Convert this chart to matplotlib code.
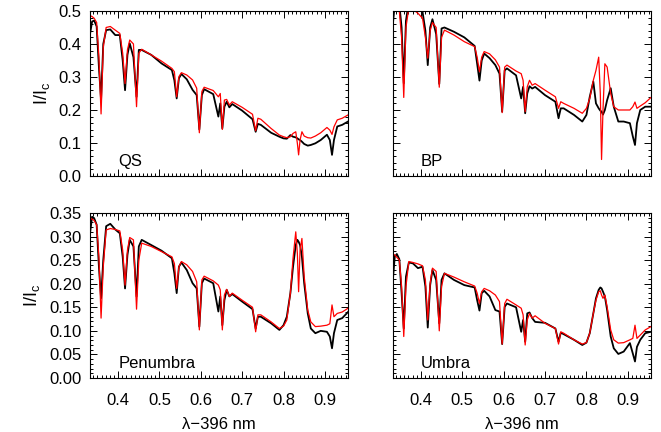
import matplotlib
matplotlib.use("Agg")
import matplotlib.pyplot as plt
from matplotlib.ticker import MultipleLocator, FormatStrFormatter

# wavelength grid (lambda - 396 nm), shared by all spectra
wl = [0.332, 0.337, 0.342, 0.348, 0.3535, 0.3587, 0.364, 0.371, 0.381, 0.393,
      0.404, 0.411, 0.4167, 0.4225, 0.428, 0.437, 0.4445, 0.450, 0.457, 0.480,
      0.505, 0.530, 0.536, 0.5416, 0.547, 0.553, 0.566, 0.580, 0.590, 0.5964,
      0.6025, 0.608, 0.630, 0.6424, 0.647, 0.652, 0.657, 0.6625, 0.669, 0.676,
      0.700, 0.725, 0.7326, 0.738, 0.745, 0.770, 0.790, 0.800, 0.808, 0.8166,
      0.823, 0.8296, 0.8335, 0.8365, 0.840, 0.8445, 0.850, 0.8586, 0.866, 0.877,
      0.890, 0.905, 0.912, 0.9173, 0.922, 0.930, 0.942, 0.956]

# observed (black) and synthetic (red) profiles, I/Ic
qs_obs = [0.43, 0.468, 0.471, 0.453, 0.33, 0.23, 0.40, 0.442, 0.444, 0.427,
          0.427, 0.35, 0.26, 0.367, 0.402, 0.36, 0.24, 0.382, 0.382, 0.367,
          0.341, 0.321, 0.29, 0.235, 0.296, 0.309, 0.293, 0.261, 0.245, 0.141,
          0.245, 0.263, 0.248, 0.18, 0.22, 0.144, 0.21, 0.225, 0.208, 0.218,
          0.198, 0.172, 0.134, 0.158, 0.155, 0.131, 0.119, 0.114, 0.113, 0.124,
          0.119, 0.117, 0.114, 0.111, 0.109, 0.104, 0.097, 0.092, 0.094, 0.099,
          0.109, 0.125, 0.109, 0.064, 0.109, 0.15, 0.155, 0.165]
qs_syn = [0.486, 0.483, 0.478, 0.465, 0.36, 0.188, 0.39, 0.45, 0.453, 0.442,
          0.432, 0.372, 0.28, 0.382, 0.412, 0.40, 0.21, 0.372, 0.384, 0.367,
          0.348, 0.326, 0.316, 0.24, 0.301, 0.313, 0.306, 0.291, 0.266, 0.131,
          0.256, 0.269, 0.259, 0.24, 0.25, 0.141, 0.23, 0.232, 0.215, 0.225,
          0.208, 0.187, 0.137, 0.175, 0.172, 0.144, 0.124, 0.119, 0.116, 0.119,
          0.129, 0.134, 0.099, 0.064, 0.109, 0.134, 0.121, 0.116, 0.115, 0.121,
          0.131, 0.147, 0.139, 0.126, 0.149, 0.17, 0.175, 0.185]

bp_obs = [0.455, 0.52, 0.53, 0.52, 0.45, 0.281, 0.47, 0.53, 0.53, 0.52,
          0.498, 0.44, 0.336, 0.45, 0.475, 0.43, 0.279, 0.447, 0.45, 0.437,
          0.42, 0.394, 0.34, 0.289, 0.35, 0.371, 0.357, 0.336, 0.31, 0.195,
          0.32, 0.326, 0.305, 0.235, 0.27, 0.19, 0.25, 0.272, 0.265, 0.27,
          0.245, 0.225, 0.175, 0.205, 0.205, 0.185, 0.165, 0.185, 0.24, 0.286,
          0.22, 0.205, 0.198, 0.195, 0.186, 0.2, 0.23, 0.266, 0.21, 0.165,
          0.165, 0.16, 0.12, 0.094, 0.16, 0.2, 0.21, 0.21]
bp_syn = [0.51, 0.51, 0.51, 0.5, 0.42, 0.238, 0.45, 0.51, 0.505, 0.493,
          0.478, 0.42, 0.357, 0.44, 0.465, 0.45, 0.269, 0.42, 0.442, 0.427,
          0.407, 0.392, 0.36, 0.316, 0.36, 0.377, 0.37, 0.352, 0.33, 0.192,
          0.33, 0.336, 0.318, 0.31, 0.29, 0.195, 0.27, 0.29, 0.275, 0.28,
          0.26, 0.24, 0.205, 0.225, 0.22, 0.205, 0.19, 0.205, 0.235, 0.29,
          0.32, 0.36, 0.25, 0.05, 0.2, 0.34, 0.33, 0.25, 0.21, 0.2,
          0.2, 0.2, 0.21, 0.224, 0.205, 0.212, 0.222, 0.238]

pen_obs = [0.307, 0.342, 0.339, 0.325, 0.236, 0.169, 0.25, 0.322, 0.327, 0.315,
           0.307, 0.257, 0.19, 0.261, 0.293, 0.279, 0.173, 0.279, 0.293, 0.282,
           0.27, 0.254, 0.222, 0.18, 0.236, 0.245, 0.229, 0.201, 0.19, 0.109,
           0.201, 0.211, 0.201, 0.141, 0.173, 0.112, 0.165, 0.187, 0.173, 0.178,
           0.162, 0.146, 0.105, 0.13, 0.13, 0.116, 0.102, 0.112, 0.13, 0.18,
           0.236, 0.282, 0.293, 0.289, 0.282, 0.257, 0.201, 0.137, 0.105, 0.095,
           0.1, 0.098, 0.088, 0.063, 0.095, 0.123, 0.127, 0.14]
pen_syn = [0.339, 0.337, 0.334, 0.325, 0.257, 0.127, 0.236, 0.314, 0.317, 0.315,
           0.312, 0.271, 0.197, 0.271, 0.298, 0.293, 0.146, 0.25, 0.286, 0.279,
           0.268, 0.257, 0.243, 0.19, 0.236, 0.247, 0.24, 0.226, 0.204, 0.102,
           0.208, 0.216, 0.206, 0.197, 0.187, 0.102, 0.176, 0.188, 0.173, 0.18,
           0.165, 0.15, 0.098, 0.134, 0.134, 0.119, 0.105, 0.11, 0.123, 0.18,
           0.254, 0.31, 0.264, 0.183, 0.271, 0.296, 0.215, 0.144, 0.119, 0.109,
           0.11, 0.112, 0.115, 0.155, 0.13, 0.137, 0.14, 0.148]

umb_obs = [0.204, 0.257, 0.263, 0.252, 0.18, 0.105, 0.215, 0.245, 0.243, 0.233,
           0.236, 0.194, 0.107, 0.197, 0.229, 0.208, 0.116, 0.208, 0.222, 0.208,
           0.197, 0.192, 0.165, 0.143, 0.18, 0.185, 0.173, 0.144, 0.141, 0.072,
           0.151, 0.158, 0.15, 0.098, 0.123, 0.077, 0.137, 0.139, 0.127, 0.119,
           0.117, 0.105, 0.077, 0.096, 0.093, 0.081, 0.07, 0.075, 0.095, 0.137,
           0.169, 0.187, 0.192, 0.19, 0.183, 0.173, 0.144, 0.088, 0.063, 0.051,
           0.056, 0.074, 0.052, 0.035, 0.066, 0.081, 0.095, 0.098]
umb_syn = [0.263, 0.261, 0.256, 0.25, 0.194, 0.088, 0.194, 0.247, 0.245, 0.242,
           0.238, 0.208, 0.123, 0.201, 0.233, 0.226, 0.1, 0.194, 0.222, 0.214,
           0.204, 0.195, 0.18, 0.158, 0.183, 0.19, 0.185, 0.176, 0.162, 0.072,
           0.158, 0.167, 0.155, 0.148, 0.134, 0.07, 0.123, 0.137, 0.127, 0.132,
           0.116, 0.105, 0.072, 0.098, 0.095, 0.081, 0.072, 0.075, 0.095, 0.137,
           0.165, 0.183, 0.185, 0.176, 0.169, 0.176, 0.151, 0.102, 0.081, 0.074,
           0.075, 0.081, 0.084, 0.112, 0.084, 0.091, 0.102, 0.109]

panel_names = ["QS", "BP", "Penumbra", "Umbra"]

plt.rcParams["font.family"] = ["Liberation Sans", "DejaVu Sans"]
plt.rcParams["font.size"] = 12
plt.rcParams["mathtext.fontset"] = "custom"
plt.rcParams["mathtext.rm"] = "Liberation Sans"
plt.rcParams["mathtext.default"] = "regular"


def draw_panel(ax, obs, syn, name, top_row, left_col):
    ax.plot(wl, obs, color="black", lw=1.3)
    ax.plot(wl, syn, color="red", lw=0.9)
    ax.set_xlim(0.332, 0.956)
    if top_row:
        ax.set_ylim(0.0, 0.5)
        ax.yaxis.set_major_locator(MultipleLocator(0.1))
        ax.yaxis.set_minor_locator(MultipleLocator(0.02))
        ax.yaxis.set_major_formatter(FormatStrFormatter("%.1f"))
    else:
        ax.set_ylim(0.0, 0.35)
        ax.yaxis.set_major_locator(MultipleLocator(0.05))
        ax.yaxis.set_minor_locator(MultipleLocator(0.01))
        ax.yaxis.set_major_formatter(FormatStrFormatter("%.2f"))
    ax.xaxis.set_major_locator(MultipleLocator(0.1))
    ax.xaxis.set_minor_locator(MultipleLocator(0.01))
    ax.xaxis.set_major_formatter(FormatStrFormatter("%.1f"))
    ax.tick_params(which="both", direction="in", top=True, right=True, width=0.7)
    ax.tick_params(which="major", length=5)
    ax.tick_params(which="minor", length=2.5)
    ax.tick_params(axis="x", pad=11)
    ax.tick_params(axis="y", pad=6)
    for s in ax.spines.values():
        s.set_linewidth(0.8)
    if top_row:
        ax.tick_params(axis="x", labelbottom=False)
    else:
        ax.set_xlabel("\u03bb\u2212396 nm", labelpad=6)
    if left_col:
        ax.set_ylabel("I/I$_{c}$", labelpad=5, fontsize=13)
    else:
        ax.tick_params(axis="y", labelleft=False)
    ax.text(0.11, 0.085, name, transform=ax.transAxes, va="center", ha="left")


fig = plt.figure(figsize=(6.61, 4.32), dpi=100)
ax_qs = fig.add_axes([0.1362, 0.5926, 0.3903, 0.382])
ax_bp = fig.add_axes([0.5941, 0.5926, 0.3908, 0.382])
ax_pen = fig.add_axes([0.1362, 0.125, 0.3903, 0.382])
ax_umb = fig.add_axes([0.5941, 0.125, 0.3908, 0.382])

draw_panel(ax_qs, qs_obs, qs_syn, panel_names[0], True, True)
draw_panel(ax_bp, bp_obs, bp_syn, panel_names[1], True, False)
draw_panel(ax_pen, pen_obs, pen_syn, panel_names[2], False, True)
draw_panel(ax_umb, umb_obs, umb_syn, panel_names[3], False, False)

fig.savefig("out.png", dpi=100)
